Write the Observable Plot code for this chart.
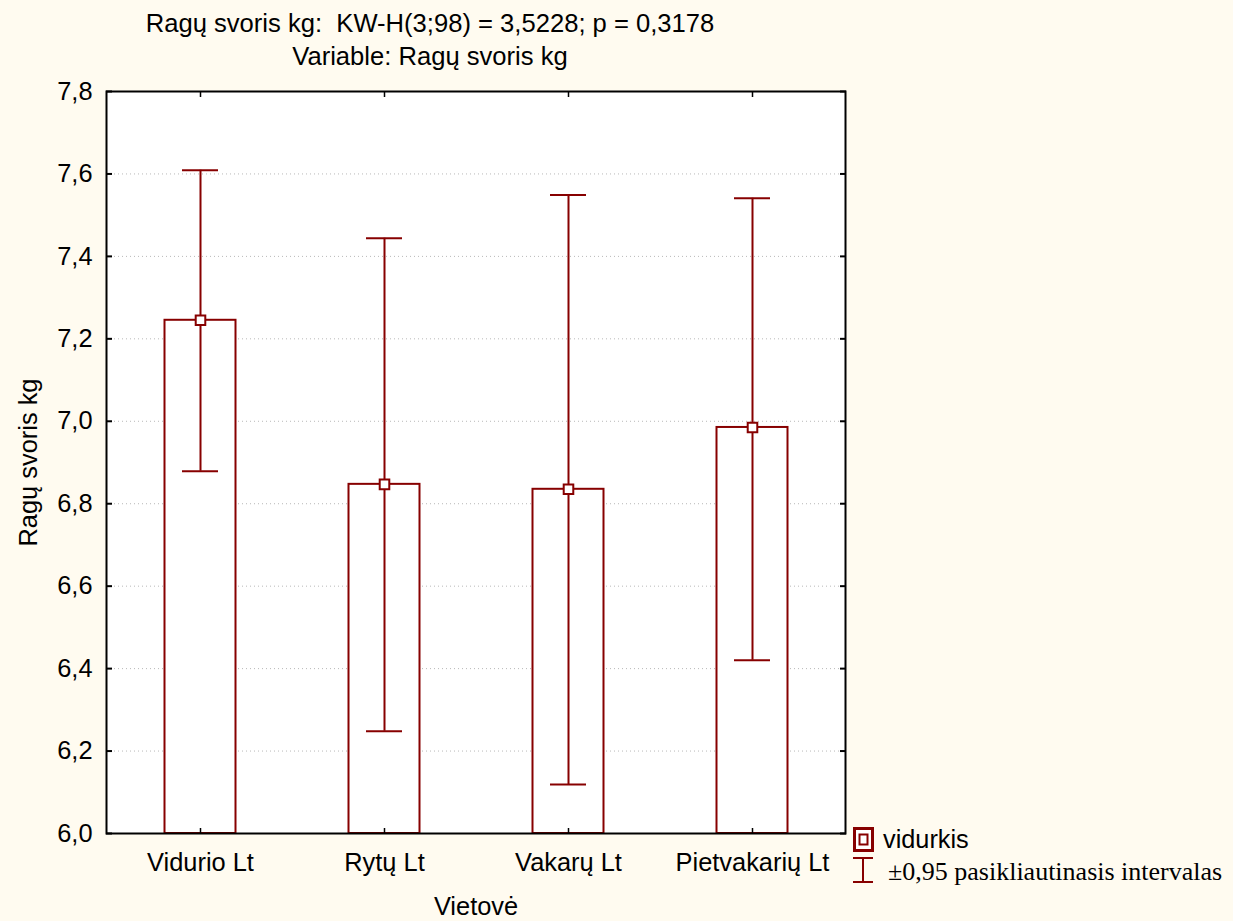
<!DOCTYPE html>
<html>
<head>
<meta charset="utf-8">
<script src="https://cdn.jsdelivr.net/npm/d3@7"></script>
<script src="https://cdn.jsdelivr.net/npm/@observablehq/plot@0.6"></script>
<style>
  html, body { margin: 0; padding: 0; background: #fffbf0; }
  #wrap { position: relative; width: 1233px; height: 921px; overflow: hidden; font-family: "Liberation Sans", Arial, sans-serif; }
  .title { position: absolute; left: 130px; width: 600px; text-align: center; font-size: 25.6px; line-height: 33px; color: #000; white-space: pre; }
  #legend { position: absolute; left: 840px; top: 815px; }
</style>
</head>
<body>
<div id="wrap">
  <div class="title" style="top:7px">Ragų svoris kg:  KW-H(3;98) = 3,5228; p = 0,3178</div>
  <div class="title" style="top:40px">Variable: Ragų svoris kg</div>
  <div id="chart"></div>
  <svg id="legend" width="393" height="80" xmlns="http://www.w3.org/2000/svg">
    <rect x="14.5" y="13.5" width="18" height="22" fill="white" stroke="#870000" stroke-width="3"/>
    <rect x="19.5" y="19.5" width="8" height="10" fill="white" stroke="#870000" stroke-width="2"/>
    <text x="43" y="33" font-family="Liberation Sans, Arial, sans-serif" font-size="25.3">vidurkis</text>
    <line x1="13" x2="33" y1="43" y2="43" stroke="#870000" stroke-width="2"/>
    <line x1="13" x2="33" y1="67" y2="67" stroke="#870000" stroke-width="2"/>
    <line x1="23" x2="23" y1="43" y2="67" stroke="#870000" stroke-width="2"/>
    <text x="48" y="65" font-family="Liberation Serif, Times New Roman, serif" font-size="26">±0,95 pasikliautinasis intervalas</text>
  </svg>
</div>
<script>
const categories = ["Vidurio Lt", "Rytų Lt", "Vakarų Lt", "Pietvakarių Lt"];
const means = [7.245, 6.847, 6.835, 6.985];
const lower = [6.879, 6.248, 6.119, 6.420];
const upper = [7.609, 7.444, 7.549, 7.541];
const yTicks = [6.0, 6.2, 6.4, 6.6, 6.8, 7.0, 7.2, 7.4, 7.6, 7.8];
const baseline = 6.0;

const data = categories.map((c, i) => ({cat: c, mean: means[i], lo: lower[i], hi: upper[i]}));
const red = "#870000";
const fmt = d => d.toFixed(1).replace(".", ",");

const chart = Plot.plot({
  width: 1233,
  height: 921,
  marginLeft: 106,
  marginRight: 388,
  marginTop: 91,
  marginBottom: 88,
  style: {background: "transparent", fontFamily: "Liberation Sans, Arial, sans-serif", fontSize: "25.4px", color: "#000"},
  x: {domain: categories, padding: 0, axis: null},
  y: {domain: [6.0, 7.8], axis: null},
  marks: [
    Plot.frame({fill: "white"}),
    Plot.gridY(yTicks, {stroke: "#b8b8b8", strokeOpacity: 1, strokeDasharray: "1,3"}),
    Plot.barY(data, {x: "cat", y1: () => baseline, y2: "mean", fill: "white", stroke: red, strokeWidth: 2, insetLeft: 56.5, insetRight: 56.5}),
    Plot.ruleX(data, {x: "cat", y1: "lo", y2: "hi", stroke: red, strokeWidth: 2}),
    Plot.tickY(data, {x: "cat", y: "hi", stroke: red, strokeWidth: 2, insetLeft: 74, insetRight: 74}),
    Plot.tickY(data, {x: "cat", y: "lo", stroke: red, strokeWidth: 2, insetLeft: 74, insetRight: 74}),
    Plot.dot(data, {x: "cat", y: "mean", symbol: "square", r: 5.4, fill: "white", stroke: red, strokeWidth: 2}),
    Plot.frame({stroke: "black", strokeWidth: 2}),
    Plot.axisY({ticks: yTicks, anchor: "left", tickSize: 0, tickPadding: 14, tickFormat: fmt, label: "Ragų svoris kg", labelAnchor: "center", labelArrow: "none", labelOffset: 88}),
    Plot.axisY({ticks: yTicks, anchor: "left", tickSize: 6, insetLeft: 6, strokeWidth: 2, tickFormat: () => "", label: null}),
    Plot.axisY({ticks: yTicks, anchor: "right", tickSize: 6, insetRight: 6, strokeWidth: 2, tickFormat: () => "", label: null}),
    Plot.axisX({anchor: "bottom", tickSize: 0, tickPadding: 19, label: "Vietovė", labelAnchor: "center", labelArrow: "none", labelOffset: 81}),
    Plot.axisX({anchor: "bottom", tickSize: 5, insetBottom: 5, strokeWidth: 1.5, tickFormat: () => "", label: null}),
    Plot.axisX({anchor: "top", tickSize: 5, insetTop: 5, strokeWidth: 1.5, tickFormat: () => "", label: null})
  ]
});
chart.style.position = "absolute";
chart.style.left = "0px";
chart.style.top = "0px";
document.getElementById("chart").appendChild(chart);
</script>
</body>
</html>
